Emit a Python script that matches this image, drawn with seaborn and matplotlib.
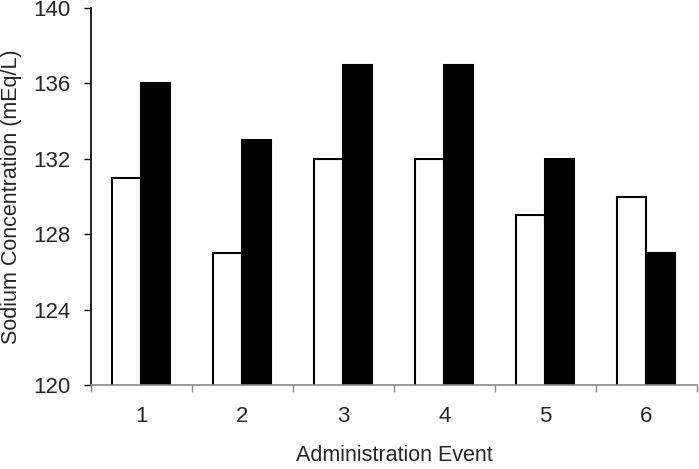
import matplotlib
matplotlib.use("Agg")
import matplotlib.pyplot as plt
import seaborn as sns
import pandas as pd

events = ["1", "2", "3", "4", "5", "6"]
series_a = [131, 127, 132, 132, 129, 130]   # white bars
series_b = [136, 133, 137, 137, 132, 127]   # black bars
y_ticks = [120, 124, 128, 132, 136, 140]

df = pd.DataFrame({
    "event": events * 2,
    "value": series_a + series_b,
    "group": ["A"] * len(events) + ["B"] * len(events),
})

sns.set_style("white")
plt.rcParams["font.family"] = ["Liberation Sans", "DejaVu Sans"]

fig = plt.figure(figsize=(6.99, 4.69), dpi=100)
ax = fig.add_axes([0.130, 0.179, 0.867, 0.804])

sns.barplot(data=df, x="event", y="value", hue="group", order=events,
            palette=["white", "black"], width=0.575, gap=0,
            edgecolor="black", linewidth=1.5, legend=False, ax=ax)

ax.set_ylim(120, 140)
ax.set_yticks(y_ticks)
ax.set_yticklabels([str(v) for v in y_ticks], fontsize=16)
ax.set_xlim(-0.5, 5.5)
ax.set_xticks([i - 0.5 for i in range(len(events) + 1)])
ax.set_xticklabels([])
ax.set_xticks(range(len(events)), minor=True)
ax.set_xticklabels(events, minor=True, fontsize=16)
ax.tick_params(axis="x", which="major", direction="out", length=5, width=1, color="#888888", bottom=True)
ax.tick_params(axis="x", which="minor", length=0, pad=15)
ax.tick_params(axis="y", direction="out", length=5, width=1, color="black", left=True, pad=10)

for s in ["top", "right"]:
    ax.spines[s].set_visible(False)
ax.spines["left"].set_color("black")
ax.spines["left"].set_linewidth(1.2)
ax.spines["bottom"].set_color("#888888")
ax.spines["bottom"].set_linewidth(1.2)

ax.set_xlabel("Administration Event", fontsize=15.5, labelpad=13)
ax.set_ylabel("Sodium Concentration (mEq/L)", fontsize=15.5, labelpad=8)

fig.savefig("out.png", dpi=100)
